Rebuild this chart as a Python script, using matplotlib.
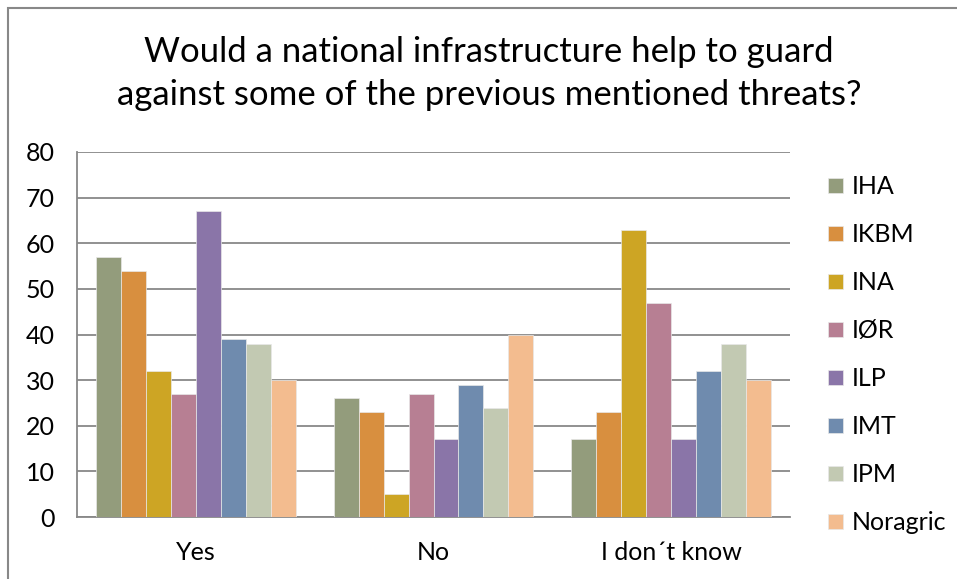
import numpy as np
import matplotlib.pyplot as plt
from matplotlib.patches import Rectangle

plt.rcParams['font.family'] = ['Lato', 'DejaVu Sans']

categories = ['Yes', 'No', 'I don´t know']
groups = ['IHA', 'IKBM', 'INA', 'IØR', 'ILP', 'IMT', 'IPM', 'Noragric']
values = {
    'IHA':      [57, 26, 17],
    'IKBM':     [54, 23, 23],
    'INA':      [32, 5, 63],
    'IØR':      [27, 27, 47],
    'ILP':      [67, 17, 17],
    'IMT':      [39, 29, 32],
    'IPM':      [38, 24, 38],
    'Noragric': [30, 40, 30],
}
colors = ['#939C7C', '#D88F3F', '#CDA524', '#B77F93',
          '#8A75A8', '#6F8BAE', '#C2C9B2', '#F3BC8F']

fig = plt.figure(figsize=(9.57, 5.79), dpi=100)
ax = fig.add_axes([0.0805, 0.107, 0.745, 0.6305])

x = np.arange(len(categories))
w = 0.105
for i, g in enumerate(groups):
    ax.bar(x + (i - 3.5) * w, values[g], w, color=colors[i], label=g,
           edgecolor='#e8e8e8', linewidth=0.5, zorder=3)

ax.set_xlim(-0.5, 2.5)
ax.set_ylim(0, 80)
ax.set_yticks(range(0, 81, 10))
ax.set_xticks(x)
ax.set_xticklabels(categories)
ax.tick_params(length=0, labelsize=18)
ax.tick_params(axis='x', pad=17)
ax.tick_params(axis='y', pad=16)
ax.grid(axis='y', color='#888888', linewidth=1.3, zorder=0)
for s in ['top', 'right']:
    ax.spines[s].set_visible(False)
for s in ['left', 'bottom']:
    ax.spines[s].set_color('#888888')
    ax.spines[s].set_linewidth(1.3)

fig.text(0.511, 0.873, 'Would a national infrastructure help to guard\n'
         'against some of the previous mentioned threats?',
         ha='center', va='center', fontsize=25, linespacing=1.42)

fig.legend(loc='upper left', bbox_to_anchor=(0.842, 0.736), frameon=False,
           fontsize=18, handlelength=0.6, handleheight=0.6, handletextpad=0.32,
           labelspacing=1.0)

fig.patches.append(Rectangle((0.008, -0.1), 1.1, 1.087, transform=fig.transFigure,
                             fill=False, edgecolor='#888888', linewidth=1.5))

fig.savefig('out.png', dpi=100)
